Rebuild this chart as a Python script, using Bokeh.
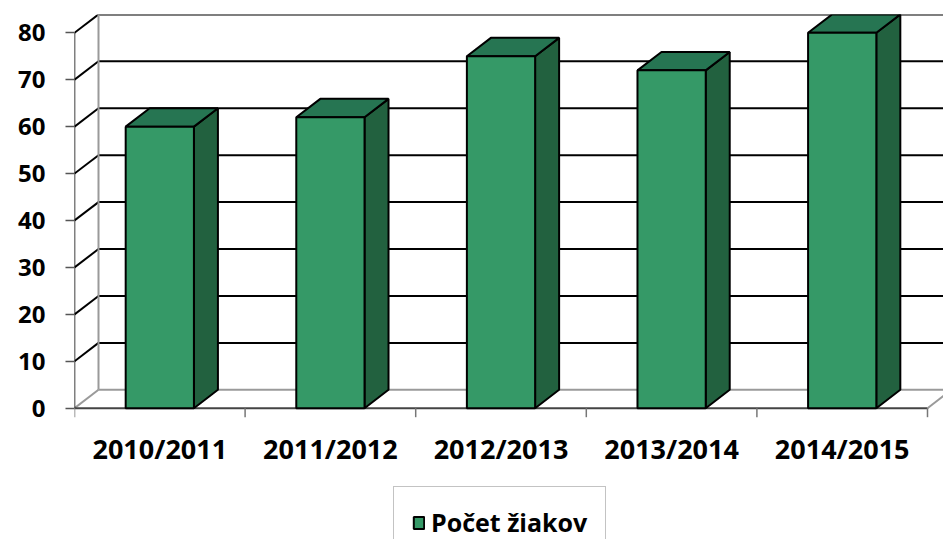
from bokeh.plotting import figure
from bokeh.models import (Range1d, FixedTicker, Legend, LegendItem, ColumnDataSource)
from bokeh.core.properties import value
from bokeh.embed import file_html
from bokeh.resources import INLINE

# ---- data ----
categories = ["2010/2011", "2011/2012", "2012/2013", "2013/2014", "2014/2015"]
students = [60, 62, 75, 72, 80]
y_ticks = [0, 10, 20, 30, 40, 50, 60, 70, 80]
series_name = "Počet žiakov"

# ---- layout constants ----
W, H = 943, 539
BORDER_L, BORDER_T = 74, 14
FRAME_W, FRAME_H = W - BORDER_L, H - BORDER_T
PX_X = 170.6          # px per category
PX_Y = 4.6925         # px per value unit
ZERO_FROM_TOP = 393.7 # px from frame top to value 0
DX = 24.0 / PX_X      # 3D depth offset (x)
DY = 18.4 / PX_Y      # 3D depth offset (y)
BAR_W = 0.4
YMAX = 80

y_end = ZERO_FROM_TOP / PX_Y
y_start = y_end - FRAME_H / PX_Y
x_end = FRAME_W / PX_X

FRONT = "#359967"
TOP = "#267552"
SIDE = "#22613F"
GRAY = "#9a9a9a"

p = figure(width=W, height=H, output_backend="svg", toolbar_location=None,
           x_range=Range1d(0, x_end), y_range=Range1d(y_start, y_end),
           min_border_left=BORDER_L, min_border_top=BORDER_T,
           min_border_right=0, min_border_bottom=0,
           x_axis_location=None, background_fill_color="white",
           border_fill_color="white", outline_line_color=None)
p.grid.visible = False

ax = p.yaxis[0]
ax.ticker = FixedTicker(ticks=y_ticks)
ax.axis_line_color = None
ax.major_tick_out = 9
ax.major_tick_in = 0
ax.minor_tick_out = 0
ax.minor_tick_in = 0
ax.major_tick_line_color = "#555555"
ax.major_tick_line_width = 1.5
ax.major_label_text_font = "Open Sans"
ax.major_label_text_font_style = "bold"
ax.major_label_text_font_size = "24px"
ax.major_label_text_color = "black"
ax.major_label_standoff = 20

n = len(categories)

# back wall gridlines
gx0 = [DX] * len(y_ticks)
gx1 = [n + DX] * len(y_ticks)
gy = [v + DY for v in y_ticks]
gcol = [GRAY if v == 0 else "black" for v in y_ticks]
p.segment(x0=gx0, y0=gy, x1=gx1, y1=gy, line_color=gcol, line_width=2)
# side wall diagonals
p.segment(x0=[0] * len(y_ticks), y0=y_ticks, x1=[DX] * len(y_ticks), y1=gy,
          line_color=gcol, line_width=2)
# back-left vertical edge
p.segment(x0=[DX], y0=[DY], x1=[DX], y1=[YMAX + DY], line_color=GRAY, line_width=2)
# front left axis line
p.segment(x0=[0], y0=[0], x1=[0], y1=[YMAX], line_color="black", line_width=1.5)
# floor
p.segment(x0=[0], y0=[0], x1=[n], y1=[0], line_color="#444444", line_width=2)
p.segment(x0=[n], y0=[0], x1=[n + DX], y1=[DY], line_color=GRAY, line_width=2)
# x ticks at category boundaries
tick_len = 9.0 / PX_Y
p.segment(x0=list(range(n + 1)), y0=[0] * (n + 1), x1=list(range(n + 1)),
          y1=[-tick_len] * (n + 1), line_color="#777777", line_width=1.5)

# bars
centers = [i + 0.5 for i in range(n)]
lefts = [c - BAR_W / 2 for c in centers]
rights = [c + BAR_W / 2 for c in centers]
side_xs = [[r, r, r + DX, r + DX] for r in rights]
side_ys = [[0, v, v + DY, DY] for v in students]
top_xs = [[l, r, r + DX, l + DX] for l, r in zip(lefts, rights)]
top_ys = [[v, v, v + DY, v + DY] for v in students]
p.patches(xs=side_xs, ys=side_ys, fill_color=SIDE, line_color="black", line_width=2)
p.patches(xs=top_xs, ys=top_ys, fill_color=TOP, line_color="black", line_width=2)
front = p.quad(left=lefts, right=rights, bottom=[0] * n, top=students,
               fill_color=FRONT, line_color="black", line_width=2)

# category labels
src = ColumnDataSource(dict(x=centers, y=[-40.3 / PX_Y] * n, t=categories))
p.text(x="x", y="y", text="t", source=src, text_font=value("Open Sans"),
       text_font_style="bold", text_font_size="27px", text_align="center",
       text_baseline="middle", text_color="black")

legend = Legend(items=[LegendItem(label=series_name, renderers=[front])],
                location=(319, -19), orientation="vertical",
                label_text_font="Open Sans", label_text_font_style="bold",
                label_text_font_size="25px", label_text_color="black",
                glyph_width=13, glyph_height=15, label_standoff=6,
                padding=18, margin=0, spacing=0,
                border_line_color="#888888", border_line_width=1.5,
                background_fill_color="white", background_fill_alpha=1.0)
p.add_layout(legend, "center")

open("out.html", "w").write(file_html(p, INLINE))
